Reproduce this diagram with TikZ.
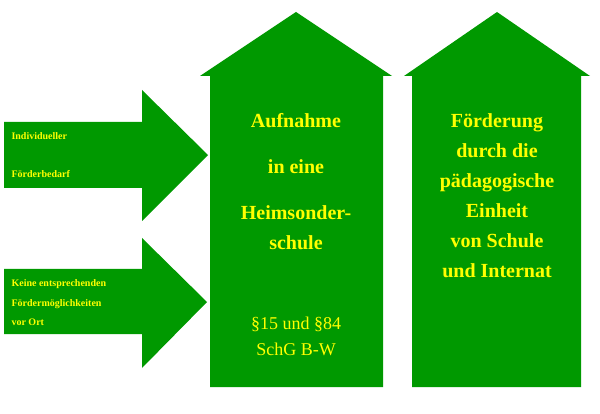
\documentclass[tikz,border=0pt]{standalone}
\usepackage{fontspec}
\setmainfont{Liberation Serif}
\usetikzlibrary{positioning}
\definecolor{arrowgreen}{RGB}{0,153,0}
\definecolor{textyellow}{RGB}{255,255,0}
\begin{document}
\begin{tikzpicture}[x=1pt,y=-1pt]
\tikzset{arrowshape/.style={fill=arrowgreen, draw=none}}
\tikzset{smalltext/.style={text=textyellow, font=\fontsize{10}{19}\selectfont\bfseries, align=left, anchor=west}}
\tikzset{bigtext/.style={text=textyellow, font=\fontsize{20}{30}\selectfont\bfseries, align=center}}
\tikzset{lawtext/.style={text=textyellow, font=\fontsize{18}{26}\selectfont, align=center}}
\useasboundingbox (0,0) rectangle (600,414);
% left arrows
\fill[arrowshape] (4,122) -- (142,122) -- (142,90) -- (208,155) -- (142,221) -- (142,188) -- (4,188) -- cycle;
\fill[arrowshape] (4,269) -- (142,269) -- (142,238) -- (207,302) -- (142,368) -- (142,334) -- (4,334) -- cycle;
% upward arrows
\fill[arrowshape] (210,387) -- (210,76) -- (200,76) -- (296,12) -- (392,76) -- (383,76) -- (383,387) -- cycle;
\fill[arrowshape] (412,387) -- (412,76) -- (404,76) -- (497,12) -- (590,76) -- (581,76) -- (581,387) -- cycle;
% texts
\node[smalltext] (need) at (8,155) {Individueller\\[19pt]Förderbedarf};
\node[smalltext, font=\fontsize{10}{19.5}\selectfont\bfseries] (local) at (8,303) {Keine entsprechenden\\Fördermöglichkeiten\\vor Ort};
\node[bigtext, font=\fontsize{20}{30}\selectfont\bfseries] (admission) at (296,182) {Aufnahme\\[16pt]in eine\\[16pt]Heimsonder-\\schule};
\node[lawtext] (law) at (296,336) {§15 und §84\\SchG B-W};
\node[bigtext] (support) at (497,196) {Förderung\\durch die\\pädagogische\\Einheit\\von Schule\\und Internat};
\end{tikzpicture}
\end{document}
